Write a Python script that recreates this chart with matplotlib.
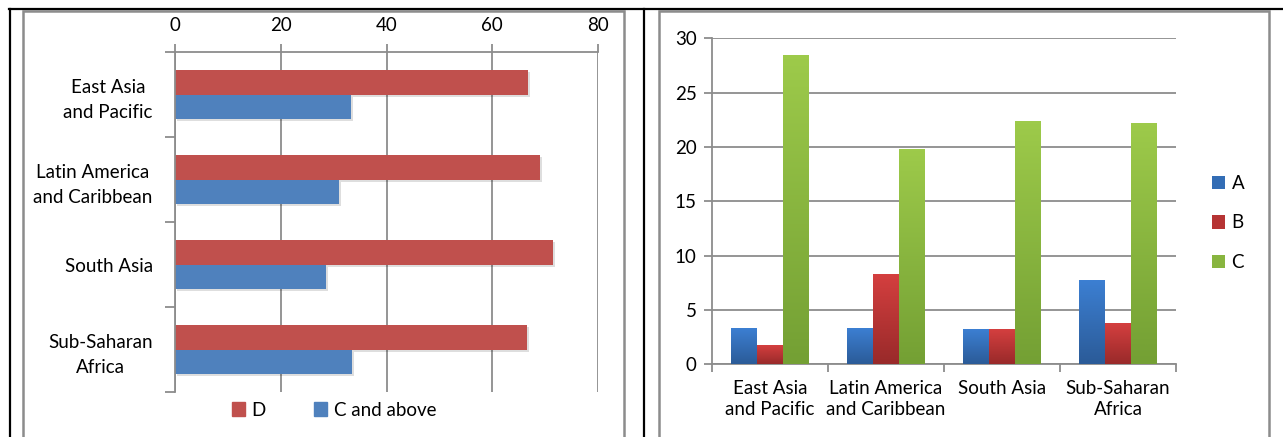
import matplotlib
matplotlib.use('Agg')
import matplotlib.pyplot as plt
import matplotlib.patheffects as pe
from matplotlib.patches import Rectangle, Patch
from matplotlib.lines import Line2D
from matplotlib.colors import LinearSegmentedColormap
import numpy as np

plt.rcParams['font.family'] = ['Lato', 'DejaVu Sans']

# Share of projects by rating, per region (%)
regions = ['East Asia\nand Pacific', 'Latin America\nand Caribbean', 'South Asia', 'Sub-Saharan\nAfrica']
share_d = [66.8, 69.0, 71.5, 66.6]
share_c_above = [33.2, 31.0, 28.5, 33.4]

# Grade counts per region
grade_labels = ['A', 'B', 'C']
grade_a = [3.3, 3.3, 3.2, 7.7]
grade_b = [1.7, 8.2, 3.2, 3.7]
grade_c = [28.4, 19.7, 22.3, 22.1]

W, H = 1283, 437
fig = plt.figure(figsize=(W / 100, H / 100), dpi=100)


def fx(px):
    return px / W


def fy(py):
    return 1 - py / H


GRAY = '#8c8c8c'
FS = 13.5

# table borders and chart frames
fig.add_artist(Line2D([fx(9), 1], [fy(9), fy(9)], color='black', lw=1.6))
fig.add_artist(Line2D([fx(9.5), fx(9.5)], [0, fy(9)], color='black', lw=1.6))
fig.add_artist(Line2D([fx(644), fx(644)], [0, fy(9)], color='black', lw=1.6))
for x0, x1 in [(23, 624), (659, 1269)]:
    fig.add_artist(Rectangle((fx(x0), fy(470)), fx(x1) - fx(x0), fy(10.5) - fy(470),
                             transform=fig.transFigure, fill=False,
                             edgecolor=GRAY, lw=1.8))

# ---- left: horizontal bars ----
axL = fig.add_axes([fx(175), fy(392), fx(598) - fx(175), fy(52) - fy(392)])
y = np.arange(len(regions))
h = 1 / 3.5
shadow = [pe.SimplePatchShadow(offset=(1.5, -1.5), shadow_rgbFace='k', alpha=0.13), pe.Normal()]
axL.barh(y - h / 2, share_d, h, color='#C0504D', path_effects=shadow)
axL.barh(y + h / 2, share_c_above, h, color='#4F81BD', path_effects=shadow)
axL.set_xlim(0, 80)
axL.set_ylim(3.5, -0.5)
axL.xaxis.tick_top()
axL.set_xticks(range(0, 81, 20))
axL.set_yticks(y)
axL.set_yticklabels(regions, fontsize=FS, ha='right', multialignment='center',
                    linespacing=1.6)
axL.set_yticks(np.arange(-0.5, 4, 1), minor=True)
axL.tick_params(axis='y', which='major', length=0, pad=16)
axL.tick_params(axis='y', which='minor', length=7, color=GRAY, width=1.3)
axL.tick_params(axis='x', length=6, color=GRAY, width=1.3, labelsize=FS, pad=7)
axL.grid(axis='x', color=GRAY, lw=1.3)
axL.set_axisbelow(True)
for s in ['right', 'bottom']:
    axL.spines[s].set_visible(False)
for s in ['top', 'left']:
    axL.spines[s].set_color(GRAY)
    axL.spines[s].set_linewidth(1.3)
left_handles = [Patch(color='#C0504D', label='D'), Patch(color='#4F81BD', label='C and above')]
fig.legend(handles=left_handles, loc='center', bbox_to_anchor=(fx(334), fy(410)),
           bbox_transform=fig.transFigure, ncol=2, frameon=False, fontsize=FS,
           handlelength=0.7, handleheight=0.7, handletextpad=0.35, columnspacing=2.6)

# ---- right: grouped vertical bars with gradient fill ----
axR = fig.add_axes([fx(712), fy(364.3), fx(1176) - fx(712), fy(38.3) - fy(364.3)])
x = np.arange(len(regions))
w = 1 / 4.5
series = [grade_a, grade_b, grade_c]
gradients = [('#3c7fd2', '#2b5b98'), ('#d43f3f', '#992a2a'), ('#9dca4a', '#74a034')]
handles = []
for i, (vals, lab, (top, bot)) in enumerate(zip(series, grade_labels, gradients)):
    cmap = LinearSegmentedColormap.from_list(lab, [top, bot])
    bars = axR.bar(x + (i - 1) * w, vals, w, color=cmap(0.5), label=lab, zorder=2)
    for b in bars:
        x0, bw, bh = b.get_x(), b.get_width(), b.get_height()
        axR.imshow(np.linspace(0, 1, 64).reshape(-1, 1), cmap=cmap, origin='upper',
                   extent=(x0, x0 + bw, 0, bh), aspect='auto', zorder=3,
                   interpolation='bilinear')
    handles.append(bars)
axR.set_xlim(-0.5, 3.5)
axR.set_ylim(0, 30)
axR.set_yticks(range(0, 31, 5))
axR.set_xticks(x)
axR.set_xticklabels(regions, fontsize=FS, linespacing=1.3)
axR.set_xticks(np.arange(-0.5, 4, 1), minor=True)
axR.tick_params(axis='x', which='major', length=0, pad=11)
axR.tick_params(axis='x', which='minor', length=6, color=GRAY, width=1.3)
axR.tick_params(axis='y', length=6, color=GRAY, width=1.3, labelsize=FS, pad=5)
axR.grid(axis='y', color=GRAY, lw=1.3)
axR.set_axisbelow(True)
for s in ['right', 'top']:
    axR.spines[s].set_visible(False)
for s in ['left', 'bottom']:
    axR.spines[s].set_color(GRAY)
    axR.spines[s].set_linewidth(1.3)
fig.legend(handles=handles, loc='center left', bbox_to_anchor=(fx(1195), fy(223)),
           bbox_transform=fig.transFigure, frameon=False, fontsize=FS,
           handlelength=0.7, handleheight=0.7, handletextpad=0.35, labelspacing=1.2)

fig.savefig('out.png', dpi=100)
